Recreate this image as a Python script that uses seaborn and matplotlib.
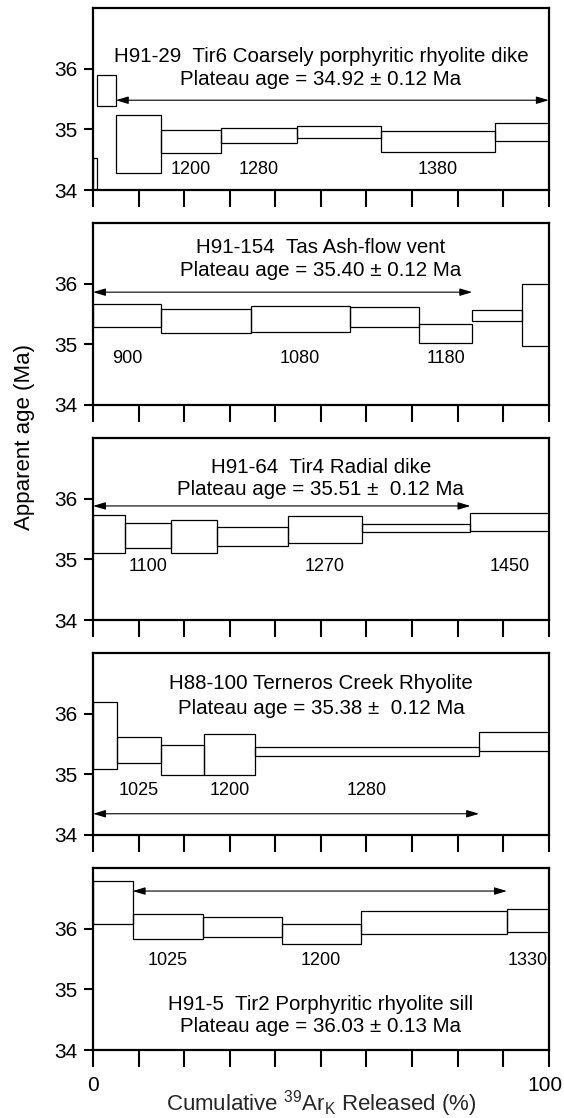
import numpy as np
import matplotlib
matplotlib.use("Agg")
import matplotlib.pyplot as plt
import matplotlib.transforms as mtransforms
import seaborn as sns

# Step-heating spectra: cumulative 39ArK edges (%), box top/bottom (Ma)
# H91-29  Tir6 Coarsely porphyritic rhyolite dike
h91_29_edges = [0, 0.9, 5.0, 14.9, 28.0, 44.8, 63.2, 88.1, 100]
h91_29_hi = [34.53, 35.89, 35.23, 34.99, 35.03, 35.05, 34.97, 35.11]
h91_29_lo = [33.90, 35.38, 34.28, 34.61, 34.78, 34.86, 34.63, 34.81]
h91_29_temp_steps = [3, 4, 6]
h91_29_temps = ["1200", "1280", "1380"]
h91_29_plateau = (2, 7)

# H91-154  Tas Ash-flow vent
h91_154_edges = [0, 15.0, 34.6, 56.3, 71.5, 83.2, 94.1, 100]
h91_154_hi = [35.66, 35.58, 35.64, 35.61, 35.34, 35.57, 36.00]
h91_154_lo = [35.29, 35.18, 35.21, 35.28, 35.03, 35.38, 34.97]
h91_154_temp_steps = [0, 2, 4]
h91_154_temps = ["900", "1080", "1180"]
h91_154_plateau = (0, 4)

# H91-64  Tir4 Radial dike
h91_64_edges = [0, 7.0, 17.2, 27.3, 42.8, 59.0, 82.8, 100]
h91_64_hi = [35.73, 35.60, 35.65, 35.54, 35.71, 35.59, 35.76]
h91_64_lo = [35.11, 35.19, 35.10, 35.22, 35.27, 35.45, 35.46]
h91_64_temp_steps = [1, 4, 6]
h91_64_temps = ["1100", "1270", "1450"]
h91_64_plateau = (0, 5)

# H88-100 Terneros Creek Rhyolite
h88_100_edges = [0, 5.3, 14.8, 24.3, 35.6, 84.7, 100]
h88_100_hi = [36.19, 35.62, 35.49, 35.66, 35.45, 35.70]
h88_100_lo = [35.09, 35.19, 34.99, 34.99, 35.30, 35.38]
h88_100_temp_steps = [1, 3, 4]
h88_100_temps = ["1025", "1200", "1280"]
h88_100_plateau = (0, 4)

# H91-5  Tir2 Porphyritic rhyolite sill
h91_5_edges = [0, 8.7, 24.1, 41.4, 58.7, 90.8, 100]
h91_5_hi = [36.78, 36.24, 36.19, 36.07, 36.29, 36.33]
h91_5_lo = [36.08, 35.83, 35.86, 35.75, 35.91, 35.94]
h91_5_temp_steps = [1, 3, 5]
h91_5_temps = ["1025", "1200", "1330"]
h91_5_plateau = (1, 4)

samples = [
    dict(edges=h91_29_edges, hi=h91_29_hi, lo=h91_29_lo, temp_steps=h91_29_temp_steps,
         temps=h91_29_temps, plateau=h91_29_plateau,
         title="H91-29  Tir6 Coarsely porphyritic rhyolite dike",
         age="Plateau age = 34.92 \u00b1 0.12 Ma",
         title_y=(36.20, 35.82), arrow_y=35.48, temp_y=34.33),
    dict(edges=h91_154_edges, hi=h91_154_hi, lo=h91_154_lo, temp_steps=h91_154_temp_steps,
         temps=h91_154_temps, plateau=h91_154_plateau,
         title="H91-154  Tas Ash-flow vent",
         age="Plateau age = 35.40 \u00b1 0.12 Ma",
         title_y=(36.60, 36.22), arrow_y=35.86, temp_y=34.76),
    dict(edges=h91_64_edges, hi=h91_64_hi, lo=h91_64_lo, temp_steps=h91_64_temp_steps,
         temps=h91_64_temps, plateau=h91_64_plateau,
         title="H91-64  Tir4 Radial dike",
         age="Plateau age = 35.51 \u00b1  0.12 Ma",
         title_y=(36.52, 36.15), arrow_y=35.88, temp_y=34.89),
    dict(edges=h88_100_edges, hi=h88_100_hi, lo=h88_100_lo, temp_steps=h88_100_temp_steps,
         temps=h88_100_temps, plateau=h88_100_plateau,
         title="H88-100 Terneros Creek Rhyolite",
         age="Plateau age = 35.38 \u00b1  0.12 Ma",
         title_y=(36.50, 36.09), arrow_y=34.35, temp_y=34.74),
    dict(edges=h91_5_edges, hi=h91_5_hi, lo=h91_5_lo, temp_steps=h91_5_temp_steps,
         temps=h91_5_temps, plateau=h91_5_plateau,
         title="H91-5  Tir2 Porphyritic rhyolite sill",
         age="Plateau age = 36.03 \u00b1 0.13 Ma",
         title_y=(34.75, 34.38), arrow_y=36.62, temp_y=35.47),
]

sns.set_theme(style="ticks")
plt.rcParams["font.family"] = ["Liberation Sans", "DejaVu Sans"]
plt.rcParams["mathtext.fontset"] = "custom"
plt.rcParams["mathtext.rm"] = "Liberation Sans"
plt.rcParams["text.color"] = "black"
plt.rcParams["axes.edgecolor"] = "black"
plt.rcParams["xtick.color"] = "black"
plt.rcParams["ytick.color"] = "black"

fig = plt.figure(figsize=(5.64, 11.18), dpi=100)
H = 1118.0
panel_bottoms_px = [190, 405, 620, 835, 1050]
panel_h = 182 / H

for i, s in enumerate(samples):
    ax = fig.add_axes([0.165, (H - panel_bottoms_px[i]) / H, 0.808, panel_h])
    edges = np.array(s["edges"])
    hi = np.array(s["hi"])
    lo = np.array(s["lo"])
    ax.bar(edges[:-1], hi - lo, width=np.diff(edges), bottom=lo, align="edge",
           fill=False, edgecolor="black", linewidth=0.9)

    # plateau arrow spans the plateau steps
    p0, p1 = s["plateau"]
    ax.annotate("", xy=(edges[p1 + 1], s["arrow_y"]), xytext=(edges[p0], s["arrow_y"]),
                arrowprops=dict(arrowstyle="<|-|>,head_length=0.5,head_width=0.15",
                                color="black", lw=0.8, shrinkA=0, shrinkB=0,
                                mutation_scale=15))

    # temperature labels under their steps
    for k, t in zip(s["temp_steps"], s["temps"]):
        xc = (edges[k] + edges[k + 1]) / 2
        ax.text(xc, s["temp_y"], t, ha="center", va="center", fontsize=13)

    ax.text(50, s["title_y"][0], s["title"], ha="center", va="center", fontsize=14.8)
    ax.text(50, s["title_y"][1], s["age"], ha="center", va="center", fontsize=14.8)

    ax.set_xlim(0, 100)
    ax.set_ylim(34, 37)
    ax.set_yticks([34, 35, 36])
    ax.set_xticks(np.arange(0, 101, 10))
    ax.tick_params(axis="x", direction="out", length=12, width=1.5, pad=7, labelsize=15)
    ax.tick_params(axis="y", direction="out", length=6.5, width=1.5, pad=5, labelsize=15)
    for sp in ax.spines.values():
        sp.set_linewidth(1.6)
    if i == len(samples) - 1:
        ax.set_xticklabels(["0"] + [""] * 9 + ["100"])
        # nudge "100" a few pixels left so it stays inside the figure
        lab = ax.get_xticklabels()[-1]
        lab.set_transform(lab.get_transform() +
                          mtransforms.ScaledTranslation(-4 / 100, 0, fig.dpi_scale_trans))
        ax.set_xlabel("Cumulative $^{\\mathregular{39}}$Ar$_{\\mathregular{K}}$ Released (%)",
                      fontsize=16, labelpad=-5)
    else:
        ax.set_xticklabels([])

fig.text(0.044, 1 - 437 / H, "Apparent age (Ma)", rotation=90, ha="center", va="center",
         fontsize=16)

fig.savefig("out.png", dpi=100)
